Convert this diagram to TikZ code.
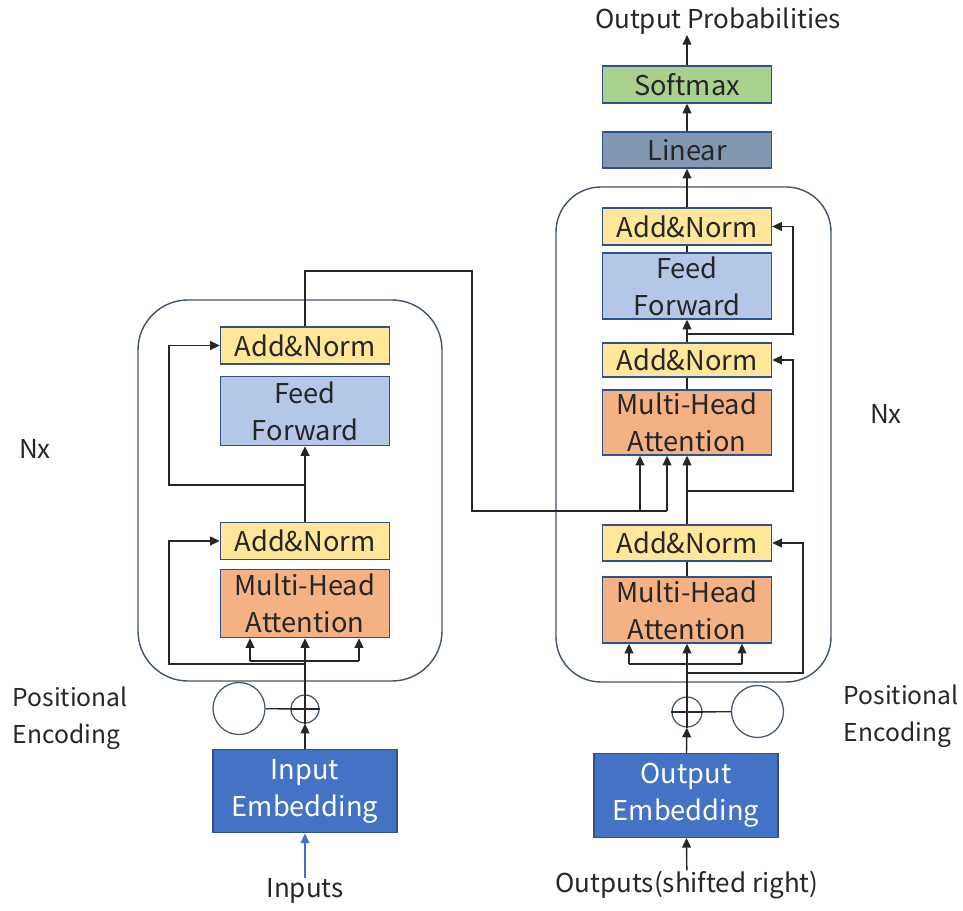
\documentclass[tikz,border=0pt]{standalone}
\usepackage{fontspec}
\setmainfont{Noto Sans CJK SC}
\usetikzlibrary{arrows.meta}
\definecolor{anfill}{HTML}{FFE699}
\definecolor{fffill}{HTML}{B4C7E7}
\definecolor{mhafill}{HTML}{F4B183}
\definecolor{embfill}{HTML}{4472C4}
\definecolor{linfill}{HTML}{8497B0}
\definecolor{smfill}{HTML}{A9D18E}
\definecolor{edge}{HTML}{2F528F}
\definecolor{frame}{HTML}{44546A}
\definecolor{ink}{HTML}{262626}

\tikzset{
  txt/.style={font=\fontsize{14.8}{21}\selectfont, text=ink, align=center, inner sep=0pt},
  blk/.style={txt, font=\fontsize{15.5}{21}\selectfont, draw=edge, line width=0.8pt, minimum width=3.38cm},
  an/.style={blk, fill=anfill, minimum height=0.74cm},
  ff/.style={blk, fill=fffill, minimum height=1.38cm},
  mha/.style={blk, fill=mhafill, minimum height=1.36cm},
  emb/.style={blk, fill=embfill, text=white, minimum width=3.68cm, minimum height=1.67cm},
  lbl/.style={txt, font=\fontsize{14}{21}\selectfont, align=left, anchor=west},
  pe/.style={circle, draw=frame, line width=0.7pt, minimum size=1.04cm, inner sep=0pt},
  addc/.style={circle, draw=frame, line width=0.7pt, minimum size=0.56cm, inner sep=0pt},
  arr/.style={-{Triangle[length=5.5pt,width=5pt]}},
}

\begin{document}
\begin{tikzpicture}[x=0.02cm, y=-0.02cm, line width=0.8pt, draw=ink]
\useasboundingbox (0,0) rectangle (963,911);

\draw[frame, rounded corners=1cm] (138,300) rectangle (442,681);
\draw[frame, rounded corners=0.9cm] (556,187) rectangle (831,682);

\node (encan2) [an] at (305,345.5) {Add\&Norm};
\node (encff) [ff] at (305,411) {Feed\\Forward};
\node (encan1) [an] at (305,541) {Add\&Norm};
\node (encmha) [mha] at (305,603.5) {Multi-Head\\Attention};
\node (encadd) [addc] at (305,709) {};
\node (encpe) [pe] at (239,708.5) {};
\node (encemb) [emb] at (305,791) {Input\\Embedding};
\node (inp) [txt] at (305,891) {Inputs};

\node (prob) [txt] at (718,21) {Output Probabilities};
\node (soft) [blk, fill=smfill, minimum height=0.74cm] at (687,84.5) {Softmax};
\node (lin) [blk, fill=linfill, minimum height=0.72cm] at (687,150) {Linear};
\node (decan3) [an] at (687,226.5) {Add\&Norm};
\node (decff) [blk, fill=fffill, minimum height=1.32cm] at (687,286) {Feed\\Forward};
\node (decan2) [an, minimum height=0.68cm] at (687,360) {Add\&Norm};
\node (decmha2) [blk, fill=mhafill, minimum height=1.3cm] at (687,422.5) {Multi-Head\\Attention};
\node (decan1) [an, minimum height=0.72cm] at (687,543) {Add\&Norm};
\node (decmha1) [blk, fill=mhafill, minimum height=1.32cm] at (687,610) {Multi-Head\\Attention};
\node (decadd) [addc, minimum size=0.6cm] at (687,712) {};
\node (decpe) [pe] at (757.5,711.5) {};
\node (decemb) [emb] at (686,795.5) {Output\\Embedding};
\node (outs) [txt] at (687,885) {Outputs(shifted right)};

\node (nxl) [txt] at (35,449) {Nx};
\node (nxr) [txt] at (886,414) {Nx};
\node (pel) [lbl] at (12,718) {Positional\\Encoding};
\node (per) [lbl] at (843,716) {Positional\\Encoding};

\coordinate (ebl) at (250,661); \coordinate (ebr) at (359,661);
\coordinate (er1) at (305,664); \coordinate (ecl1) at (169,664);
\coordinate (er2) at (305,485); \coordinate (ecl2) at (169,485);
\coordinate (lk1) at (305,271); \coordinate (lk2) at (472,271);
\coordinate (lk3) at (472,511); \coordinate (lk4) at (667,511);
\coordinate (lk5) at (640,511);
\coordinate (dbl) at (629,664); \coordinate (dbr) at (742,664);
\coordinate (dr1) at (687,673); \coordinate (dcr1) at (803,673);
\coordinate (dr2) at (687,491); \coordinate (dcr2) at (793,491);
\coordinate (dr3) at (687,334); \coordinate (dcr3) at (793,334);

\draw (encadd.north) -- (encadd.south); \draw (encadd.west) -- (encadd.east);
\draw (decadd.north) -- (decadd.south); \draw (decadd.west) -- (decadd.east);
\draw (encpe) -- (encadd); \draw (decpe) -- (decadd);

\draw[arr, draw=embfill, fill=embfill] (inp) -- (encemb);
\draw[arr] (encemb) -- (encadd); \draw[arr] (encadd) -- (encmha);
\draw (ebl) -- (ebr);
\draw[arr] (ebl) -- (ebl |- encmha.south); \draw[arr] (ebr) -- (ebr |- encmha.south);
\draw[arr] (er1) -- (ecl1) |- (encan1.west);
\draw (encan1) -- (er2);
\draw[arr] (er2) -- (encff);
\draw[arr] (er2) -- (ecl2) |- (encan2.west);
\draw (encan2) -- (lk1) -- (lk2) -- (lk3) -- (lk4);
\draw[arr] (lk4) -- (lk4 |- decmha2.south); \draw[arr] (lk5) -- (lk5 |- decmha2.south);

\draw[arr] (outs) -- (decemb);
\draw[arr] (decemb) -- (decadd); \draw[arr] (decadd) -- (decmha1);
\draw (dbl) -- (dbr);
\draw[arr] (dbl) -- (dbl |- decmha1.south); \draw[arr] (dbr) -- (dbr |- decmha1.south);
\draw[arr] (dr1) -- (dcr1) |- (decan1.east);
\draw (decmha1) -- (decan1);
\draw[arr] (decan1) -- (decmha2);
\draw[arr] (dr2) -- (dcr2) |- (decan2.east);
\draw (decmha2) -- (decan2);
\draw[arr] (decan2) -- (decff);
\draw[arr] (dr3) -- (dcr3) |- (decan3.east);
\draw (decff) -- (decan3);
\draw[arr] (decan3) -- (lin); \draw[arr] (lin) -- (soft);
\draw[arr] (soft) -- (soft |- prob.south);

\end{tikzpicture}
\end{document}
